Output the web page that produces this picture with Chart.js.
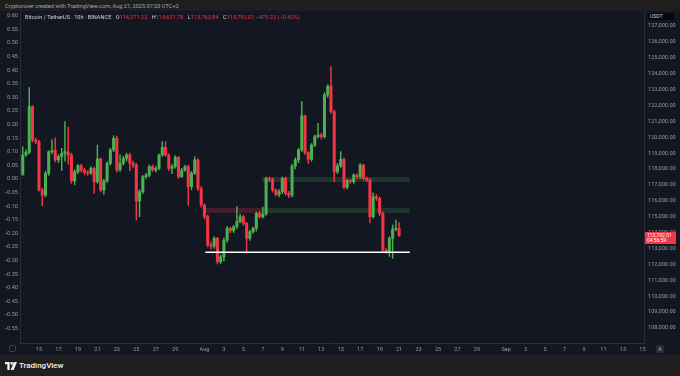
<!DOCTYPE html>
<html>
<head>
<meta charset="utf-8">
<script src="https://cdn.jsdelivr.net/npm/chart.js@4.4.1/dist/chart.umd.min.js"></script>
<style>
  html, body { margin: 0; padding: 0; width: 680px; height: 376px; overflow: hidden; background: #1e1e1e; font-family: Roboto, "Noto Sans", sans-serif; }
  #top { position: absolute; left: 5px; top: 3px; font-size: 5.6px; color: #a3a6ad; white-space: nowrap; }
  #pane { position: absolute; left: 0; top: 11px; width: 680px; height: 344px; background: #131722; }
  #chart { position: absolute; left: 0; top: 0; }
  #legend { position: absolute; left: 25px; top: 2.5px; font-size: 5.6px; color: #d1d4dc; white-space: nowrap; }
  #legend .k { color: #d1d4dc; margin-left: 3px; }
  #legend .v { color: #f23645; }
  #unit { position: absolute; left: 648px; top: 2px; width: 24px; height: 7px; background: #05070b; color: #d1d4dc; font-size: 5px; line-height: 7px; padding-left: 2px; }
  #price { position: absolute; left: 645px; width: 31px; height: 12px; background: #f23645; color: #fff; font-size: 5px; line-height: 5.6px; padding-left: 2px; box-sizing: border-box; padding-top: 0.5px; }
  #gear { position: absolute; left: 9px; top: 334px; width: 7px; height: 7px; border: 1px solid #3a3e49; border-radius: 2px; box-sizing: border-box; }
  #auto { position: absolute; left: 656px; top: 334px; width: 8px; height: 8px; border-radius: 2px; background: #2a2e39; color: #b2b5be; font-size: 5px; line-height: 8px; text-align: center; }
  #foot { position: absolute; left: 5px; top: 360px; height: 11px; display: flex; align-items: center; color: #f0f0f0; font-size: 8px; font-weight: 500; }
  #foot svg { margin-right: 2px; }
</style>
</head>
<body>
<div id="top">Cryptorover created with TradingView.com, Aug 21, 2025 07:03 UTC+2</div>
<div id="pane">
  <canvas id="chart" width="680" height="344"></canvas>
  <div id="legend">Bitcoin / TetherUS · 10h · BINANCE <span class="k">O</span><span class="v">114,271.23</span> <span class="k">H</span><span class="v">114,621.78</span> <span class="k">L</span><span class="v">113,763.84</span> <span class="k">C</span><span class="v">113,792.01</span> <span class="v">−479.22 (−0.42%)</span></div>
  <div id="unit">USDT</div>
  <div id="price">113,792.01<br>04:56:59</div>
  <div id="gear"></div>
  <div id="auto">A</div>
</div>
<div id="foot">
  <svg width="12" height="8" viewBox="0 0 36 24"><path d="M0 0h14v24H7V7H0z" fill="#f0f0f0"/><circle cx="20" cy="4" r="4" fill="#f0f0f0"/><path d="M26 0h10l-10 24h-9z" fill="#f0f0f0"/></svg>
  TradingView
</div>

<script>
// candles, 8h each, first one Jul 13 08:00 (x axis is in days, 1 = Jul 1)
const firstBar = 13 + 8 / 24;
const barDays = 8 / 24;

const opens = [117660, 118880, 119050, 121920, 119830, 119720, 116680, 116360, 117730, 119090,
  119175, 118570, 118780, 118990, 119090, 118880, 117250, 117830, 118210, 117940,
  117790, 117750, 118040, 117200, 118630, 116680, 117250, 118360, 119200, 119930,
  117940, 118360, 118670, 118880, 118360, 118250, 115990, 116570, 117520, 117620,
  118150, 117940, 118040, 118880, 119360, 118880, 118040, 118150, 118730, 117520,
  117940, 118150, 116890, 117730, 118570, 116780, 115730, 115000, 113220, 113150,
  113640, 112170, 112480, 113530, 114270, 114120, 114370, 114690, 115000, 114580,
  113640, 114050, 114270, 115210, 115000, 115170, 117410, 117350, 116680, 116400,
  116570, 117410, 116470, 116360, 118190, 118570, 119200, 121340, 119030, 118610,
  119510, 120040, 120140, 120040, 122660, 123220, 121610, 117830, 118190, 118610,
  116850, 117270, 117200, 117620, 117520, 118250, 117410, 117310, 115000, 116260,
  116150, 115210, 112900, 112800, 113640, 114220, 114271.23];
const highs = [119400, 119200, 123120, 122000, 119950, 119800, 116800, 117850, 119150, 119830,
  119970, 118900, 119300, 120980, 120660, 119000, 117950, 118300, 118300, 118050,
  117900, 118150, 118100, 119510, 118700, 117350, 118450, 119300, 120100, 120050,
  118900, 118800, 119000, 119000, 118500, 118350, 116700, 117600, 117750, 118250,
  118250, 118150, 118950, 119720, 119720, 118950, 118300, 118850, 118800, 118050,
  118250, 118250, 117850, 118780, 118650, 116900, 115800, 115100, 113400, 113750,
  113700, 112600, 113650, 114400, 114350, 114450, 115630, 115150, 115100, 114650,
  114150, 114350, 115300, 115350, 115600, 117500, 117500, 117450, 116750, 116700,
  117500, 117500, 116600, 118300, 118700, 119300, 122240, 121400, 119100, 119600,
  120140, 120870, 120250, 122800, 123300, 124440, 121700, 118350, 119090, 118700,
  117350, 117350, 117700, 117700, 118350, 118300, 117500, 117400, 116500, 116400,
  116250, 115300, 113000, 113750, 114480, 114790, 114621.78];
const lows = [117600, 118800, 118950, 119700, 119600, 116600, 115690, 116250, 117600, 118950,
  118450, 118400, 117900, 118500, 118300, 117100, 117000, 117700, 117800, 117650,
  117600, 117650, 116470, 117100, 116550, 116400, 117150, 118250, 119100, 117800,
  117850, 118250, 118500, 117900, 118100, 114800, 115000, 116450, 117400, 117500,
  117850, 117800, 117950, 118800, 118800, 117900, 117700, 118050, 117400, 117450,
  117850, 115730, 116700, 117650, 116650, 115600, 114850, 113100, 112950, 113000,
  112020, 112050, 112200, 113400, 114000, 114000, 114250, 114600, 114450, 112700,
  113500, 113950, 114100, 114900, 114900, 115100, 117200, 116550, 116300, 116250,
  116450, 116350, 116200, 116250, 118000, 118400, 119100, 118900, 118350, 118500,
  119400, 119950, 119900, 119950, 122500, 121500, 117200, 117700, 118100, 116750,
  116750, 117100, 117100, 117400, 117400, 117300, 117200, 114600, 114900, 116000,
  115050, 112800, 112690, 112500, 112380, 114100, 113763.84];
const closes = [118880, 119050, 121920, 119830, 119720, 116680, 116360, 117730, 119090, 119175,
  118570, 118780, 118990, 119090, 118880, 117250, 117830, 118210, 117940, 117790,
  117750, 118040, 117200, 118630, 116680, 117250, 118360, 119200, 119930, 117940,
  118360, 118670, 118880, 118360, 118250, 115990, 116570, 117520, 117620, 118150,
  117940, 118040, 118880, 119360, 118880, 118040, 118150, 118730, 117520, 117940,
  118150, 116890, 117730, 118570, 116780, 115730, 115000, 113220, 113150, 113640,
  112170, 112480, 113530, 114270, 114120, 114370, 114690, 115000, 114580, 113640,
  114050, 114270, 115210, 115000, 115170, 117410, 117350, 116680, 116400, 116570,
  117410, 116470, 116360, 118190, 118570, 119200, 121340, 119030, 118610, 119510,
  120040, 120140, 120040, 122660, 123220, 121610, 117830, 118190, 118610, 116850,
  117270, 117200, 117620, 117520, 118250, 117410, 117310, 115000, 116260, 116150,
  115210, 112900, 112800, 113640, 114220, 114271.23, 113792.01];

// price axis ticks (right) and percent axis ticks (left)
const priceTicks = [108000, 109000, 110000, 111000, 112000, 113000, 114000, 115000, 116000, 117000,
  118000, 119000, 120000, 121000, 122000, 123000, 124000, 125000, 126000, 127000];
const pctTicks = [0.60, 0.55, 0.50, 0.45, 0.40, 0.35, 0.30, 0.25, 0.20, 0.15, 0.10, 0.05, 0.00,
  -0.05, -0.10, -0.15, -0.20, -0.25, -0.30, -0.35, -0.40, -0.45, -0.50, -0.55];

// date ticks (day number from Jul 1) and their labels
const dateTicks = [15, 17, 19, 21, 23, 25, 27, 29, 32, 34, 36, 38, 40, 42, 44, 46, 48, 50, 52, 54, 56, 58, 60,
  63, 65, 67, 69, 71, 73, 75, 77];
const dateLabels = ['15', '17', '19', '21', '23', '25', '27', '29', 'Aug', '3', '5', '7', '9', '11', '13', '15',
  '17', '19', '21', '23', '25', '27', '29', 'Sep', '3', '5', '7', '9', '11', '13', '15'];

// drawn zones (from day, to day, low, high) and the support line
const zoneFrom = [31.9, 37.9, 37.9];
const zoneTo = [37.9, 53.1, 53.1];
const zoneLow = [115230, 115230, 117180];
const zoneHigh = [115550, 115550, 117500];
const supportLevel = 112760;
const supportFrom = 32.1;
const supportTo = 53.1;

const UP = '#4caf50';
const DOWN = '#f23645';
const zoneColors = ['rgba(242,54,69,0.22)', 'rgba(76,175,80,0.2)', 'rgba(76,175,80,0.2)'];
const axisText = '#9598a1';
const tickFont = { family: 'Roboto', size: 5.6 };

const barX = closes.map((c, i) => firstBar + i * barDays);
const colors = closes.map((c, i) => c >= opens[i] ? UP : DOWN);

const zones = {
  id: 'zones',
  beforeDatasetsDraw(chart) {
    const { ctx, scales: { x, y } } = chart;
    ctx.save();
    zoneFrom.forEach((d, i) => {
      const x1 = x.getPixelForValue(zoneFrom[i]);
      const x2 = x.getPixelForValue(zoneTo[i]);
      const y1 = y.getPixelForValue(zoneHigh[i]);
      const y2 = y.getPixelForValue(zoneLow[i]);
      ctx.fillStyle = zoneColors[i];
      ctx.fillRect(x1, y1, x2 - x1, y2 - y1);
    });
    ctx.restore();
  },
  afterDatasetsDraw(chart) {
    const { ctx, scales: { x, y } } = chart;
    const yy = y.getPixelForValue(supportLevel);
    ctx.save();
    ctx.strokeStyle = '#ffffff';
    ctx.lineWidth = 1.5;
    ctx.beginPath();
    ctx.moveTo(x.getPixelForValue(supportFrom), yy);
    ctx.lineTo(x.getPixelForValue(supportTo), yy);
    ctx.stroke();
    ctx.restore();
    // last price label on the price axis
    const py = y.getPixelForValue(closes[closes.length - 1]);
    document.getElementById('price').style.top = (py - 3.5) + 'px';
  }
};

function fixWidth(w) {
  return function (s) { s.width = w; s.paddingTop = 0; s.paddingBottom = 0; };
}

new Chart(document.getElementById('chart'), {
  type: 'bar',
  data: {
    datasets: [
      {
        data: barX.map((x, i) => ({ x: x, y: [opens[i], closes[i]] })),
        backgroundColor: colors,
        barThickness: 2.4,
        minBarLength: 1,
        grouped: false,
        yAxisID: 'y'
      },
      {
        data: barX.map((x, i) => ({ x: x, y: [lows[i], highs[i]] })),
        backgroundColor: colors,
        barThickness: 0.8,
        grouped: false,
        yAxisID: 'y'
      }
    ]
  },
  options: {
    responsive: false,
    animation: false,
    layout: { padding: 0, autoPadding: false },
    plugins: { legend: { display: false }, tooltip: { enabled: false } },
    scales: {
      x: {
        type: 'linear',
        offset: false,
        min: 13.05,
        max: 77.16,
        grid: { display: false, drawTicks: false, offset: false },
        border: { color: '#2a2e39' },
        ticks: {
          color: axisText, font: tickFont, padding: 3, autoSkip: false, maxRotation: 0,
          callback: (v, i) => dateLabels[i]
        },
        afterBuildTicks: s => { s.ticks = dateTicks.map(v => ({ value: v })); },
        afterFit: s => { s.height = 12; s.paddingLeft = 0; s.paddingRight = 0; }
      },
      y: {
        position: 'right',
        min: 107051,
        max: 127944,
        grid: { display: false, drawTicks: false },
        border: { color: '#2a2e39' },
        ticks: {
          color: axisText, font: tickFont, padding: 4,
          callback: v => v.toLocaleString('en-US', { minimumFractionDigits: 2, maximumFractionDigits: 2 })
        },
        afterBuildTicks: s => { s.ticks = priceTicks.map(v => ({ value: v })); },
        afterFit: fixWidth(36)
      },
      yPct: {
        position: 'left',
        min: -0.6029,
        max: 0.6176,
        grid: { display: false, drawTicks: false },
        border: { color: '#2a2e39' },
        ticks: {
          color: axisText, font: tickFont, padding: 2,
          callback: v => (v < 0 ? '−' : '') + Math.abs(v).toFixed(2)
        },
        afterBuildTicks: s => { s.ticks = pctTicks.map(v => ({ value: v })); },
        afterFit: fixWidth(20)
      }
    }
  },
  plugins: [zones]
});
</script>
</body>
</html>
